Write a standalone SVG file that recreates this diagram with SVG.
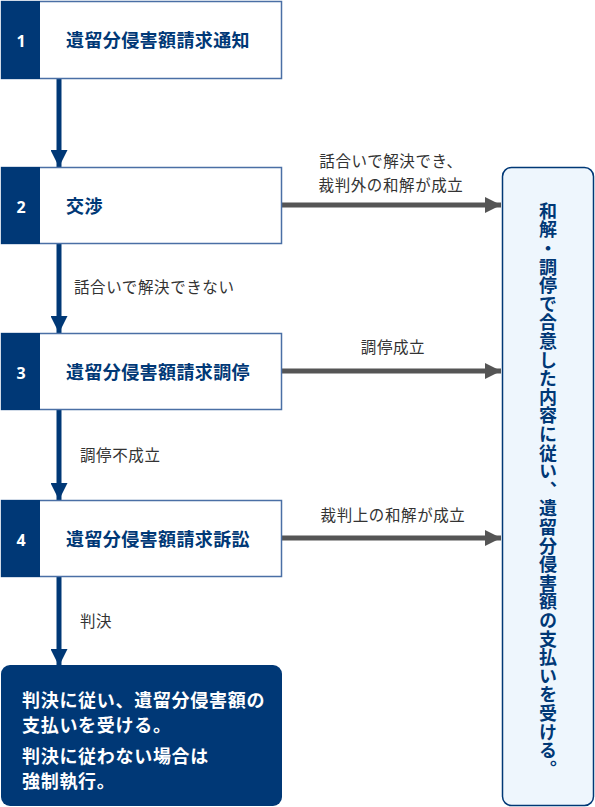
<svg xmlns="http://www.w3.org/2000/svg" width="595" height="807" viewBox="0 0 595 807">
<style>
.box{fill:#fff;stroke:#4a6fa5;stroke-width:1.5}
.num{fill:#003876}
.numt{fill:#fff;font:bold 16px "Noto Sans","Noto Sans CJK JP",sans-serif}
.title{fill:#003876;font:bold 18px "Noto Sans CJK JP",sans-serif;letter-spacing:0.4px}
.lbl{fill:#333;font:15.5px "Noto Sans CJK JP",sans-serif;letter-spacing:0.6px}
.vline{stroke:#003876;stroke-width:5}
.hline{stroke:#555;stroke-width:5}
.white{fill:#fff;font:bold 18px "Noto Sans CJK JP",sans-serif;letter-spacing:0.7px}
</style>
<defs>
<marker id="ah" viewBox="0 0 10 10" refX="10" refY="5" markerWidth="3.4" markerHeight="3.4" markerUnits="strokeWidth" orient="auto">
<path d="M0,0L10,5L0,10z" fill="#003876"/>
</marker>
<marker id="ahg" viewBox="0 0 10 10" refX="10" refY="5" markerWidth="3.2" markerHeight="3.2" markerUnits="strokeWidth" orient="auto">
<path d="M0,0L10,5L0,10z" fill="#555"/>
</marker>
</defs>
<g id="connectors">
<line class="vline" x1="59" y1="79" x2="59" y2="167" marker-end="url(#ah)"/>
<line class="vline" x1="59" y1="244" x2="59" y2="333" marker-end="url(#ah)"/>
<line class="vline" x1="59" y1="410" x2="59" y2="500" marker-end="url(#ah)"/>
<line class="vline" x1="59" y1="577" x2="59" y2="666" marker-end="url(#ah)"/>
<line class="hline" x1="282" y1="205" x2="501" y2="205" marker-end="url(#ahg)"/>
<line class="hline" x1="282" y1="371" x2="501" y2="371" marker-end="url(#ahg)"/>
<line class="hline" x1="282" y1="538" x2="501" y2="538" marker-end="url(#ahg)"/>
<text class="lbl" x="391" y="167" text-anchor="middle">話合いで解決でき、</text>
<text class="lbl" x="391" y="191" text-anchor="middle">裁判外の和解が成立</text>
<text class="lbl" x="74" y="293">話合いで解決できない</text>
<text class="lbl" x="393" y="353" text-anchor="middle">調停成立</text>
<text class="lbl" x="80" y="461">調停不成立</text>
<text class="lbl" x="393" y="521" text-anchor="middle">裁判上の和解が成立</text>
<text class="lbl" x="80" y="627">判決</text>
</g>
<g id="node1">
<rect class="box" x="1.5" y="1.5" width="280" height="77"/>
<rect class="num" x="1" y="1" width="39" height="78"/>
<text class="numt" x="21" y="47" text-anchor="middle">1</text>
<text class="title" x="66" y="47">遺留分侵害額請求通知</text>
</g>
<g id="node2">
<rect class="box" x="1.5" y="167.5" width="280" height="76"/>
<rect class="num" x="1" y="167" width="39" height="77"/>
<text class="numt" x="21" y="213" text-anchor="middle">2</text>
<text class="title" x="66" y="213">交渉</text>
</g>
<g id="node3">
<rect class="box" x="1.5" y="333.5" width="280" height="76"/>
<rect class="num" x="1" y="333" width="39" height="77"/>
<text class="numt" x="21" y="379" text-anchor="middle">3</text>
<text class="title" x="66" y="379">遺留分侵害額請求調停</text>
</g>
<g id="node4">
<rect class="box" x="1.5" y="500.5" width="280" height="76"/>
<rect class="num" x="1" y="500" width="39" height="77"/>
<text class="numt" x="21" y="546" text-anchor="middle">4</text>
<text class="title" x="66" y="546">遺留分侵害額請求訴訟</text>
</g>
<g id="result">
<rect x="1" y="665" width="281" height="141" rx="9" fill="#003876"/>
<text class="white" x="22" y="707">判決に従い、遺留分侵害額の</text>
<text class="white" x="22" y="732">支払いを受ける。</text>
<text class="white" x="22" y="763">判決に従わない場合は</text>
<text class="white" x="22" y="788">強制執行。</text>
</g>
<g id="settlement">
<rect x="502.5" y="167.5" width="91" height="638" rx="9" fill="#eef6fd" stroke="#003876" stroke-width="1.5"/>
<text x="548" y="202" fill="#003876" style="font:bold 18px 'Noto Sans CJK JP',sans-serif;writing-mode:vertical-rl" letter-spacing="0.6">和解・調停で合意した内容に従い、遺留分侵害額の支払いを受ける。</text>
</g>
</svg>
